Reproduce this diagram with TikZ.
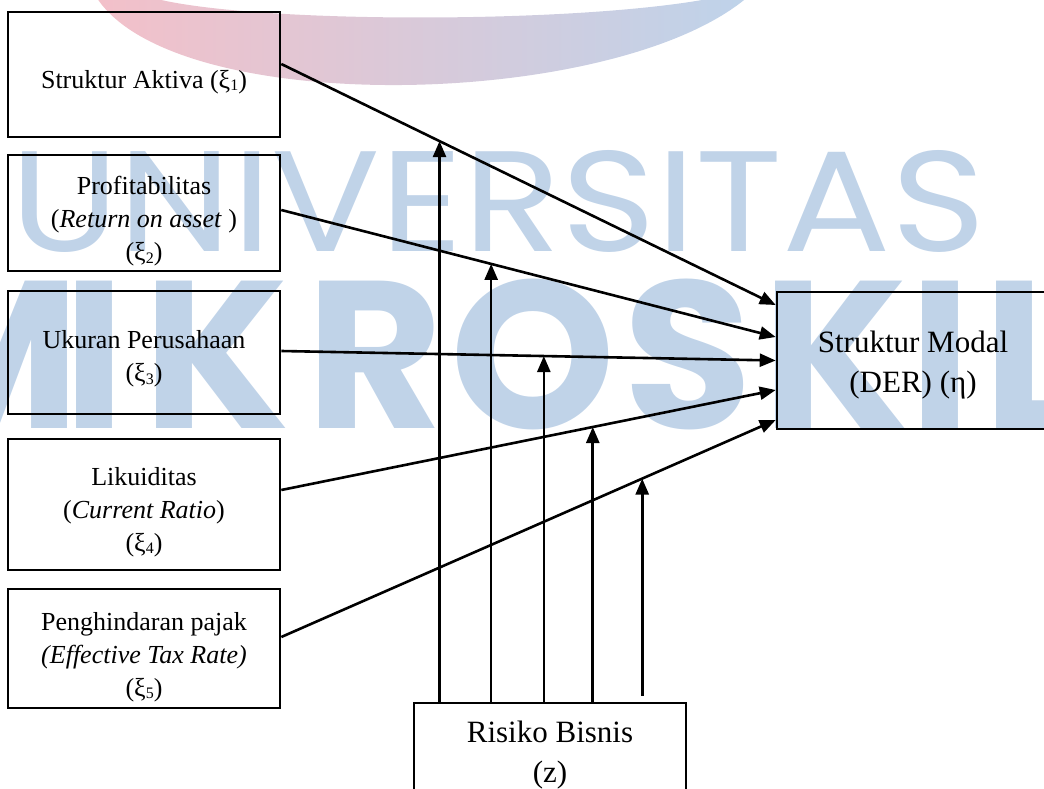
\documentclass[tikz,border=0pt]{standalone}
\usepackage{fontspec}
\setmainfont{Liberation Serif}
\newfontfamily\wmfont{Poppins}
\usetikzlibrary{arrows.meta,calc}
\definecolor{wmblue}{RGB}{192,211,232}
\definecolor{wmpink}{RGB}{243,192,201}
\definecolor{wmblueb}{RGB}{190,211,234}
\newcommand\xisub[1]{ξ\raisebox{-0.1em}{\fontsize{16}{16}\selectfont #1}}
\newcommand\txtdown[2]{\raisebox{-#1}[\height][\depth]{\begin{tabular}{@{}c@{}}#2\end{tabular}}}
\begin{document}
\begin{tikzpicture}[x=1pt,y=-1pt,
  box/.style={draw, line width=2.6pt, minimum width=272pt, inner sep=0pt, font=\fontsize{26}{33}\selectfont},
  bigbox/.style={box, font=\fontsize{31}{40}\selectfont},
  conn/.style={line width=2.6pt, -{Triangle[length=16pt,width=13pt]}},
  wm/.style={inner sep=0pt, text=wmblue},
  wmb/.style={wm, anchor=base west, font=\fontsize{210}{210}\selectfont\wmfont\bfseries}
]
\useasboundingbox (0,0) rectangle (1044,789);
\clip (0,0) rectangle (1044,789);
% watermark
\shade[left color=wmpink, right color=wmblueb] (95,-5) .. controls (170,120) and (620,110) .. (750,-5) -- (727,-5) .. controls (600,25) and (230,25) .. (143,-5) -- cycle;
\node[wm, anchor=south west] (wm1) at (10,253) {\resizebox{975pt}{101pt}{\wmfont UNIVERSITAS}};
\node[wmb, anchor=base east] (w1) at (80,428) {M};
\node[wmb] (w2) at (63,428) {I};
\node[wmb] (w3) at (143,428) {K};
\node[wmb] (w4) at (306,428) {R};
\node[wmb] (w5) at (450,428) {O};
\node[wmb] (w6) at (623,428) {S};
\node[wmb] (w7) at (762,428) {K};
\node[wmb] (w8) at (909,428) {I};
\node[wmb] (w9) at (983,428) {L};
% boxes
\node[box, minimum height=125pt] (n1) at (144,74.5) {\txtdown{7pt}{Struktur Aktiva (\xisub{1})}};
\node[box, minimum height=116pt] (n2) at (144,213) {\txtdown{8pt}{Profitabilitas\\(\textit{Return on asset} )\\(\xisub{2})}};
\node[box, minimum height=123pt] (n3) at (144,352.5) {\txtdown{6pt}{Ukuran Perusahaan\\(\xisub{3})}};
\node[box, minimum height=131pt] (n4) at (144,504.5) {\txtdown{7pt}{Likuiditas\\(\textit{Current Ratio})\\(\xisub{4})}};
\node[box, minimum height=119pt] (n5) at (144,648.5) {\txtdown{8pt}{Penghindaran pajak\\\textit{(Effective Tax Rate)}\\(\xisub{5})}};
\node[bigbox, minimum height=137pt] (m) at (913,360.5) {\txtdown{4pt}{Struktur Modal\\(DER) (η)}};
\node[bigbox, minimum height=96pt] (z) at (550,751) {\txtdown{3pt}{Risiko Bisnis\\(z)}};
% connectors
\draw[conn] ([yshift=10.5pt]n1.east) -- ([yshift=55.5pt]m.west) coordinate[pos=0.320] (k1);
\draw[conn] ([yshift=3pt]n2.east) -- ([yshift=23.5pt]m.west) coordinate[pos=0.4245] (k2);
\draw[conn] ([yshift=1.5pt]n3.east) -- (m.west) coordinate[pos=0.531] (k3);
\draw[conn] ([yshift=14.5pt]n4.east) -- ([yshift=-29.5pt]m.west) coordinate[pos=0.630] (k4);
\draw[conn] ([yshift=11.5pt]n5.east) -- ([yshift=-59.5pt]m.west) coordinate[pos=0.730] (k5);
% moderating arrows
\draw[conn] (k1 |- z.north) -- (k1);
\draw[conn] (k2 |- z.north) -- (k2);
\draw[conn] (k3 |- z.north) -- (k3);
\draw[conn] (k4 |- z.north) -- (k4);
\coordinate (e0) at ($(k5 |- z.north)+(0,6pt)$);
\draw[conn] (e0) -- (k5);
\end{tikzpicture}
\end{document}
